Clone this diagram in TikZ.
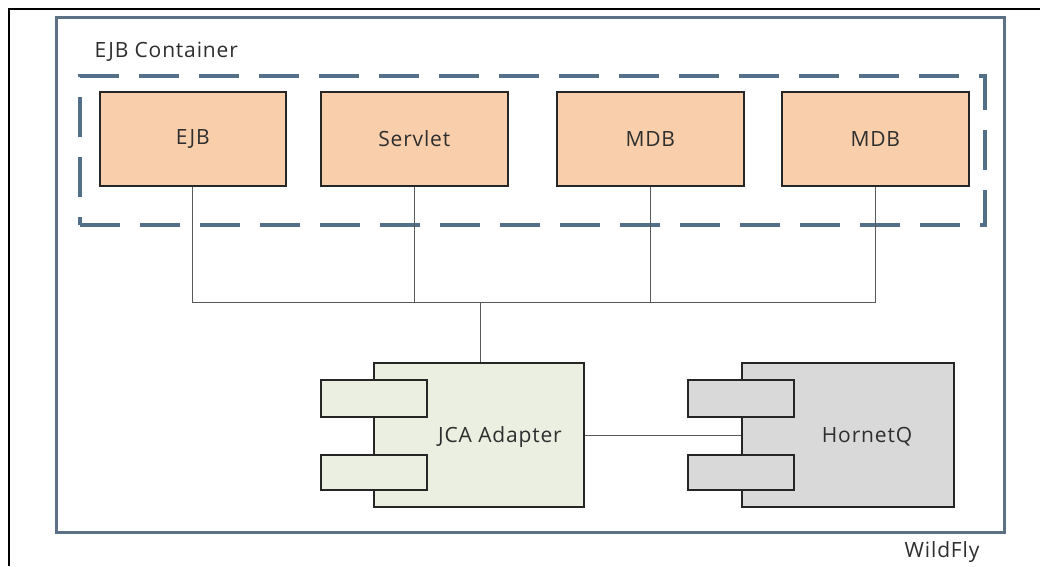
\documentclass[tikz,border=0pt]{standalone}
\usepackage{fontspec}
\setmainfont[LetterSpace=4]{Open Sans}
\begin{document}
\begin{tikzpicture}[x=1pt,y=-1pt,
  txt/.style={font=\fontsize{21}{24}\selectfont, text=black!82},
  comp/.style={draw=black!85, line width=1.6pt, fill=peach, anchor=north west, inner sep=0pt, txt},
  port/.style={draw=black!85, line width=1.6pt, anchor=north west, inner sep=0pt},
  wire/.style={draw=black!65, line width=1pt}]
\definecolor{peach}{HTML}{F9CFAB}
\definecolor{jcag}{HTML}{EBEFE1}
\definecolor{hqg}{HTML}{D9D9D9}
\definecolor{frame}{HTML}{5C7186}
\definecolor{dash}{HTML}{546F88}
\useasboundingbox (0,0) rectangle (1040,566);
\fill[white] (0,0) rectangle (1040,566);
\draw[black, line width=1.2pt] (9,566) -- (9,9) -- (1040,9);
% WildFly frame
\node[draw=frame, line width=3pt, minimum width=948pt, minimum height=515pt, anchor=north west, inner sep=0pt] (wf) at (55,16) {};
\node[txt, anchor=center] (wflabel) at (942,552) {WildFly};
% EJB container
\node[draw=dash, line width=3.5pt, dash pattern=on 40pt off 20pt, minimum width=905pt, minimum height=149pt, anchor=north west, inner sep=0pt] (cont) at (78,74) {};
\node[txt, anchor=west] (contlabel) at (91,52) {EJB Container};
% components
\node[comp, minimum width=186pt, minimum height=94pt] (ejb) at (99,91) {};
\node[txt] at (ejb.center) {EJB};
\node[comp, minimum width=187pt, minimum height=94pt] (servlet) at (320,91) {};
\node[txt] at (servlet.center) {Servlet};
\node[comp, minimum width=187pt, minimum height=94pt] (mdba) at (556,91) {};
\node[txt] at (mdba.center) {MDB};
\node[comp, minimum width=187pt, minimum height=94pt] (mdbb) at (781,91) {};
\node[txt] at (mdbb.center) {MDB};
% JCA adapter
\node[draw=black!85, line width=1.6pt, fill=jcag, minimum width=210pt, minimum height=144pt, anchor=north west, inner sep=0pt] (jca) at (373,362) {};
\node[port, fill=jcag, minimum width=106pt, minimum height=37pt] (jcap1) at (320,379) {};
\node[port, fill=jcag, minimum width=106pt, minimum height=35pt] (jcap2) at (320,454) {};
\node[txt] (jcalabel) at (500,437) {JCA Adapter};
% HornetQ
\node[draw=black!85, line width=1.6pt, fill=hqg, minimum width=212pt, minimum height=144pt, anchor=north west, inner sep=0pt] (hq) at (741,362) {};
\node[port, fill=hqg, minimum width=106pt, minimum height=37pt] (hqp1) at (687,379) {};
\node[port, fill=hqg, minimum width=106pt, minimum height=35pt] (hqp2) at (687,454) {};
\node[txt] (hqlabel) at (867,437) {HornetQ};
% bus
\coordinate (busl) at (ejb.south |- 0,302);
\coordinate (busr) at (mdbb.south |- 0,302);
\coordinate (busj) at (480,302);
\draw[wire] (ejb.south) -- (busl) -- (busr) -- (mdbb.south);
\draw[wire] (servlet.south) -- (servlet.south |- busl);
\draw[wire] (mdba.south) -- (mdba.south |- busl);
\draw[wire] (busj) -- (busj |- jca.north);
\draw[wire] (jca.east |- 0,435) -- (hq.west |- 0,435);
\end{tikzpicture}
\end{document}
